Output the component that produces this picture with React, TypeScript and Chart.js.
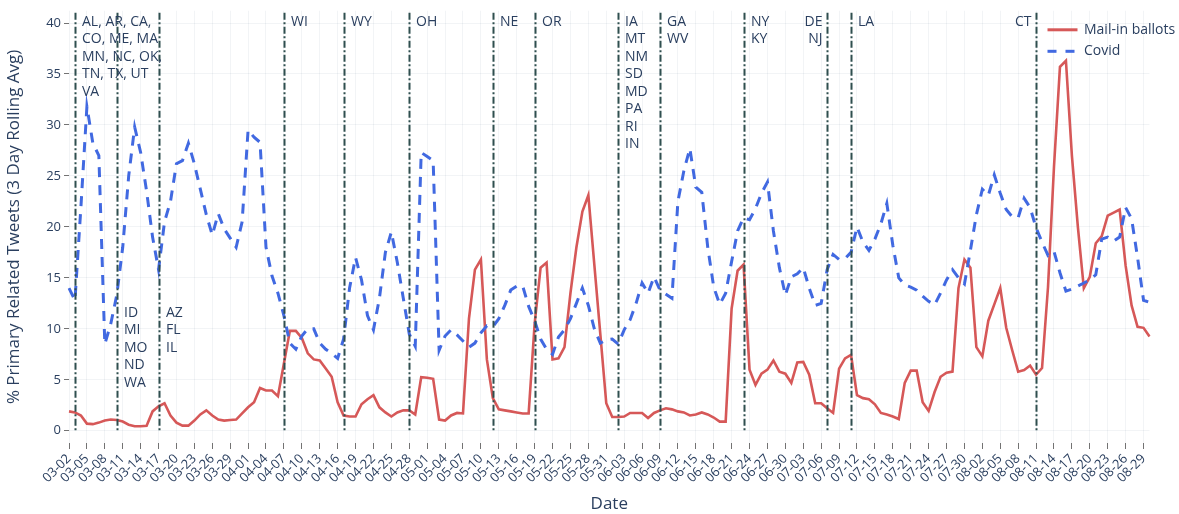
import React, { useEffect, useRef } from 'react';
import { Chart, registerables } from 'chart.js';

Chart.register(...registerables);

// ---- data ----
const START_DATE = '2020-03-02';
const NUM_DAYS = 182;

const MAIL_IN = [
  1.9, 1.8, 1.5, 0.7, 0.65, 0.8, 1.0, 1.1, 1.05, 0.9,
  0.6, 0.45, 0.45, 0.5, 1.9, 2.4, 2.7, 1.5, 0.8, 0.5,
  0.5, 1.0, 1.6, 2.0, 1.5, 1.1, 1.0, 1.05, 1.1, 1.7,
  2.3, 2.8, 4.2, 3.95, 3.95, 3.4, 6.6, 9.8, 9.8, 9.1,
  7.6, 7.0, 6.9, 6.1, 5.3, 2.8, 1.5, 1.4, 1.4, 2.6,
  3.1, 3.5, 2.3, 1.8, 1.4, 1.8, 2.0, 2.0, 1.6, 5.25,
  5.2, 5.1, 1.1, 1.0, 1.5, 1.75, 1.7, 11.0, 15.8, 16.8,
  7.0, 3.2, 2.1, 2.0, 1.9, 1.8, 1.7, 1.7, 10.5, 16.0,
  16.5, 7.0, 7.1, 8.2, 13.5, 18.0, 21.5, 23.1, 16.3, 9.5,
  2.7, 1.35, 1.35, 1.4, 1.75, 1.75, 1.75, 1.25, 1.75, 2.0,
  2.2, 2.1, 1.9, 1.8, 1.5, 1.6, 1.8, 1.6, 1.3, 0.9,
  0.9, 12.0, 15.7, 16.3, 6.0, 4.5, 5.6, 6.0, 6.9, 5.8,
  5.6, 4.7, 6.7, 6.75, 5.5, 2.7, 2.7, 2.2, 1.75, 6.1,
  7.1, 7.45, 3.5, 3.2, 3.1, 2.6, 1.75, 1.6, 1.4, 1.15,
  4.7, 5.9, 5.9, 2.8, 1.95, 3.8, 5.3, 5.7, 5.8, 14.0,
  16.8, 16.0, 8.2, 7.3, 10.8, 12.4, 14.0, 10.1, 7.9, 5.8,
  5.95, 6.4, 5.5, 6.15, 14.1, 25.9, 35.7, 36.3, 27.0, 20.0,
  14.0, 15.1, 18.4, 19.1, 21.1, 21.4, 21.7, 16.2, 12.3, 10.2,
  10.1, 9.25,
];

const COVID = [
  14.0, 12.8, 22.0, 31.8, 28.2, 27.0, 8.5, 10.5, 13.3, 18.0,
  25.0, 29.8, 27.3, 23.5, 19.0, 15.8, 20.5, 22.5, 26.2, 26.5,
  28.2, 26.2, 23.7, 21.2, 19.2, 21.3, 19.8, 18.9, 18.0, 20.5,
  29.5, 28.8, 28.3, 18.0, 15.2, 13.5, 11.3, 8.6, 8.0, 9.3,
  10.0, 10.0, 8.6, 8.0, 7.6, 7.1, 9.0, 14.0, 17.0, 14.8,
  11.3, 9.9, 13.0, 17.5, 19.5, 16.5, 13.0, 9.5, 8.3, 27.3,
  26.9, 26.5, 7.9, 9.3, 9.9, 9.4, 8.8, 8.2, 8.6, 9.6,
  10.3, 10.2, 11.0, 12.3, 13.8, 14.2, 14.2, 12.2, 10.8, 9.0,
  8.0, 7.5, 9.2, 9.9, 11.0, 12.5, 14.0, 12.3, 10.0, 8.6,
  8.9, 9.0, 8.5, 9.9, 10.9, 12.5, 14.5, 13.5, 15.1, 13.8,
  13.4, 13.0, 22.5, 25.5, 27.7, 23.9, 23.4, 18.0, 14.1, 12.4,
  13.5, 16.6, 19.6, 20.9, 20.7, 21.8, 23.3, 24.4, 19.6, 16.0,
  13.3, 15.1, 15.4, 16.0, 14.0, 12.3, 12.5, 15.8, 17.3, 16.8,
  16.9, 17.5, 20.0, 18.5, 17.7, 18.8, 20.3, 22.3, 18.2, 15.0,
  14.3, 14.1, 13.8, 13.2, 12.7, 12.35, 13.5, 14.8, 15.8, 15.0,
  14.4, 17.7, 21.2, 23.7, 23.1, 25.1, 23.3, 21.7, 21.0, 20.9,
  22.8, 21.9, 19.9, 18.5, 17.2, 17.6, 15.5, 13.7, 13.9, 14.2,
  14.5, 14.8, 15.3, 18.8, 19.0, 18.6, 19.0, 21.9, 20.8, 17.0,
  12.8, 12.6,
];

const PRIMARY_DATES = [
  '03-03', '03-10', '03-17', '04-07', '04-17', '04-28', '05-12',
  '05-19', '06-02', '06-09', '06-23', '07-07', '07-11', '08-11',
];

const PRIMARY_STATES = [
  ['AL, AR, CA,', 'CO, ME, MA', 'MN, NC, OK,', 'TN, TX, UT', 'VA'],
  ['ID', 'MI', 'MO', 'ND', 'WA'],
  ['AZ', 'FL', 'IL'],
  ['WI'],
  ['WY'],
  ['OH'],
  ['NE'],
  ['OR'],
  ['IA', 'MT', 'NM', 'SD', 'MD', 'PA', 'RI', 'IN'],
  ['GA', 'WV'],
  ['NY', 'KY'],
  ['DE', 'NJ'],
  ['LA'],
  ['CT'],
];

const SERIES_NAMES = ['Mail-in ballots', 'Covid'];
const Y_TITLE = '% Primary Related Tweets (3 Day Rolling Avg)';
const X_TITLE = 'Date';

function buildDates(): string[] {
  const out: string[] = [];
  const d0 = new Date(START_DATE + 'T00:00:00Z');
  for (let i = 0; i < NUM_DAYS; i++) {
    const d = new Date(d0.getTime() + i * 86400000);
    const mm = String(d.getUTCMonth() + 1).padStart(2, '0');
    const dd = String(d.getUTCDate()).padStart(2, '0');
    out.push(mm + '-' + dd);
  }
  return out;
}
const DATES = buildDates();

// ---- styles ----
const FONT = "'Open Sans', 'Noto Sans', sans-serif";
const TEXT = '#2a3f5f';
const GRID = 'rgba(42,63,95,0.06)';
const TICK = 'rgba(68,68,68,0.75)';
const RED = 'rgb(214,88,88)';
const BLUE = 'rgb(65,105,225)';
const VLINE = '#2f4f4f';

const primaryPlugin = {
  id: 'primaries',
  afterDatasetsDraw(chart: any) {
    const { ctx } = chart;
    const x = chart.scales.x;
    const y = chart.scales.y;
    ctx.save();
    const pxs = PRIMARY_DATES.map((d) => Math.round(x.getPixelForValue(DATES.indexOf(d))) + 0.5);
    // lines first
    pxs.forEach((px) => {
      ctx.beginPath();
      ctx.setLineDash([7, 2.5, 2, 2.5]);
      ctx.lineWidth = 2;
      ctx.strokeStyle = VLINE;
      ctx.moveTo(px, y.getPixelForValue(41));
      ctx.lineTo(px, y.getPixelForValue(0));
      ctx.stroke();
    });
    // then labels
    ctx.setLineDash([]);
    ctx.fillStyle = TEXT;
    ctx.font = `14px ${FONT}`;
    ctx.textBaseline = 'middle';
    PRIMARY_DATES.forEach((d, i) => {
      const px = pxs[i];
      const states = PRIMARY_STATES[i];
      const mid = d === '03-10' || d === '03-17';
      const leftSide = d === '07-07' || d === '08-11';
      const y0 = y.getPixelForValue(mid ? 11.6 : 40.1);
      ctx.textAlign = leftSide ? 'right' : 'left';
      const tx = leftSide ? px - 5 : px + 6.5;
      states.forEach((s, j) => {
        ctx.fillText(s, tx, y0 + j * 17.5);
      });
    });
    ctx.restore();
  },
};

const legendPlugin = {
  id: 'customLegend',
  afterDraw(chart: any) {
    const { ctx, chartArea } = chart;
    const r = chartArea.right;
    const top = chartArea.top;
    ctx.save();
    const x0 = r - 102;
    const x1 = r - 72;
    const rows = [top + 19, top + 40.5];
    const colors = [RED, BLUE];
    const dashes = [[], [9, 9]];
    rows.forEach((ry, i) => {
      ctx.beginPath();
      ctx.setLineDash(dashes[i]);
      ctx.strokeStyle = colors[i];
      ctx.lineWidth = 3;
      ctx.moveTo(x0, ry);
      ctx.lineTo(x1, ry);
      ctx.stroke();
      ctx.setLineDash([]);
      ctx.fillStyle = TEXT;
      ctx.font = `14px ${FONT}`;
      ctx.textAlign = 'left';
      ctx.textBaseline = 'middle';
      ctx.fillText(SERIES_NAMES[i], r - 65.5, ry);
    });
    ctx.restore();
  },
};

export default function App() {
  const ref = useRef<HTMLCanvasElement | null>(null);

  useEffect(() => {
    if (!ref.current) return;
    const chart = new Chart(ref.current, {
      type: 'line',
      data: {
        labels: DATES,
        datasets: [
          {
            label: SERIES_NAMES[0],
            data: MAIL_IN,
            borderColor: RED,
            backgroundColor: RED,
            borderWidth: 2.6,
            pointRadius: 0,
            tension: 0,
            fill: false,
            order: 1,
          },
          {
            label: SERIES_NAMES[1],
            data: COVID,
            borderColor: BLUE,
            backgroundColor: BLUE,
            borderWidth: 3,
            borderDash: [10, 8],
            pointRadius: 0,
            tension: 0,
            fill: false,
            order: 0,
          },
        ],
      },
      options: {
        animation: false,
        responsive: true,
        maintainAspectRatio: false,
        layout: { padding: { left: 0, right: 29.5, top: 10.5, bottom: 0 } },
        plugins: {
          legend: { display: false },
          tooltip: { enabled: false },
        },
        scales: {
          x: {
            type: 'category',
            offset: false,
            grid: {
              color: GRID,
              tickColor: TICK,
              tickLength: 6,
              drawTicks: true,
              offset: false,
            },
            border: { display: false },
            ticks: {
              autoSkip: false,
              maxRotation: 45,
              minRotation: 45,
              color: TEXT,
              padding: 2,
              font: { family: FONT, size: 13 },
            },
            afterBuildTicks: (s: any) => {
              s.ticks = s.ticks.filter((t: any) => t.value % 3 === 0);
            },
            afterFit: (s: any) => {
              s.height = 71;
            },
            title: {
              display: true,
              text: X_TITLE,
              color: TEXT,
              font: { family: FONT, size: 17 },
              padding: { top: 0, bottom: 0 },
            },
          },
          y: {
            min: -1.2,
            max: 41.2,
            grid: {
              color: GRID,
              tickColor: TICK,
              tickLength: 5,
              drawTicks: true,
            },
            border: { display: false },
            ticks: {
              stepSize: 5,
              includeBounds: false,
              color: TEXT,
              padding: 3,
              font: { family: FONT, size: 13 },
            },
            afterFit: (s: any) => {
              s.width = 69;
            },
            title: {
              display: true,
              text: Y_TITLE,
              color: TEXT,
              font: { family: FONT, size: 17 },
              padding: { top: 4, bottom: 0 },
            },
          },
        },
      },
      plugins: [primaryPlugin, legendPlugin],
    } as any);
    return () => chart.destroy();
  }, []);

  return (
    <div style={{ position: 'fixed', left: 0, top: 0, width: 1179, height: 514, background: '#fff' }}>
      <canvas ref={ref} />
    </div>
  );
}
